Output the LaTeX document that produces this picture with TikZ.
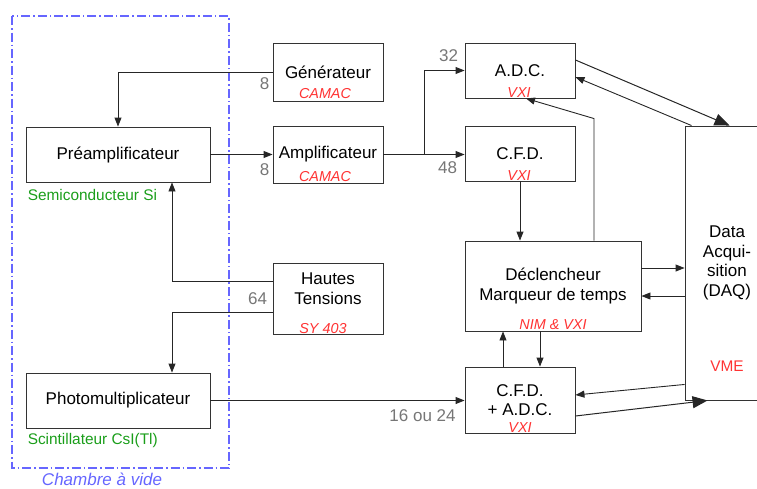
\documentclass[tikz,border=0pt]{standalone}
\usepackage{fontspec}
\setmainfont{Liberation Sans}
\usetikzlibrary{arrows.meta}

\definecolor{chambreblue}{HTML}{6666FF}
\definecolor{busred}{HTML}{FF3333}
\definecolor{detgreen}{HTML}{1A9E1A}
\definecolor{nbgray}{HTML}{767676}

\begin{document}
\begin{tikzpicture}[x=1pt, y=-1pt,
  box/.style={draw=black!80, line width=0.9pt, inner sep=0pt, align=center, font=\fontsize{17}{19.7}\selectfont},
  bus/.style={inner sep=0pt, text=busred, font=\fontsize{14.4}{16}\selectfont\itshape},
  nb/.style={inner sep=0pt, text=nbgray, font=\fontsize{17}{20}\selectfont},
  det/.style={inner sep=0pt, anchor=west, text=detgreen, font=\fontsize{15.4}{18}\selectfont},
  arr/.style={-{Triangle[length=9pt,width=7pt]}, line width=0.9pt, draw=black!85},
  bigarr/.style={-{Triangle[length=15pt,width=12pt]}, line width=1pt, draw=black!85}]

\useasboundingbox (0,0) rectangle (757,488);

% Chambre a vide
\draw[chambreblue, line width=1.6pt, dash pattern=on 9pt off 3pt on 1.5pt off 3pt] (12,16) rectangle (229,468);
\node[text=chambreblue, inner sep=0pt, font=\fontsize{17}{20}\selectfont\itshape] (chambre) at (102,479.5) {Chambre à vide};

% Detecteurs
\node[box, minimum width=184, minimum height=55] (pre) at (118,154.5) {Préamplificateur};
\node[det] (pre-det) at ([shift={(2,13)}]pre.south west) {Semiconducteur Si};
\node[box, minimum width=184, minimum height=55] (photo) at (118,400.5) {Photomultiplicateur};
\node[det] (photo-det) at ([shift={(2,12)}]photo.south west) {Scintillateur CsI(Tl)};

% CAMAC / alimentation
\node[box, minimum width=110, minimum height=58] (gen) at (328,72) {Générateur};
\node[bus] (gen-bus) at ([shift={(-3,-8)}]gen.south) {CAMAC};
\node[box, minimum width=110, minimum height=57] (amp) at (328,154.5) {Amplificateur};
\node[bus] (amp-bus) at ([shift={(-3,-7)}]amp.south) {CAMAC};
\node[box, minimum width=110, minimum height=71] (ht) at (328,298.5) {};
\node[box, draw=none] (ht-txt) at ([shift={(0,-9.5)}]ht.center) {Hautes\\Tensions};
\node[bus] (ht-bus) at ([shift={(-5,-6)}]ht.south) {SY 403};

% VXI / NIM
\node[box, minimum width=110, minimum height=55] (adc) at (520,70.5) {A.D.C.};
\node[bus] (adc-bus) at ([shift={(-1,-6)}]adc.south) {VXI};
\node[box, minimum width=110, minimum height=55] (cfd) at (520,153.5) {C.F.D.};
\node[bus] (cfd-bus) at ([shift={(-1,-6)}]cfd.south) {VXI};
\node[box, minimum width=176, minimum height=90] (trig) at (553,286) {Déclencheur\\Marqueur de temps};
\node[bus] (trig-bus) at ([shift={(0,-7)}]trig.south) {NIM \& VXI};
\node[box, minimum width=110, minimum height=66] (cfdadc) at (520,400) {C.F.D.\\+ A.D.C.};
\node[bus] (cfdadc-bus) at ([shift={(0,-6)}]cfdadc.south) {VXI};

% DAQ (coupe a droite)
\node[box, minimum width=84, minimum height=274] (daq) at (727,263) {Data\\Acqui-\\sition\\(DAQ)};
\node[inner sep=0pt, text=busred, font=\fontsize{15.4}{18}\selectfont] (daq-bus) at (727,366) {VME};

% Liaisons
\draw[arr] (gen.west) -| (pre.north);
\node[nb] (n-gen) at ([shift={(-8,12)}]gen.west) {8};
\draw[arr] (pre.east) -- (pre.east -| amp.west);
\node[nb] (n-amp) at ([shift={(-8,15)}]amp.west) {8};
\draw[arr] (amp.east) -- (amp.east -| cfd.west);
\node[nb] (n-cfd) at ([shift={(-17,14)}]cfd.west) {48};
\draw[arr] ([shift={(41,0)}]amp.east) |- (adc.west);
\node[nb] (n-adc) at ([shift={(-16,-15)}]adc.west) {32};

\draw[arr] ([shift={(0,-17.5)}]ht.west) -| ([shift={(54,0)}]pre.south);
\draw[arr] ([shift={(0,13.5)}]ht.west) -| ([shift={(54,0)}]photo.north);
\node[nb] (n-ht) at ([shift={(-15,0)}]ht.west) {64};

\draw[arr] (photo.east) -- (photo.east -| cfdadc.west);
\node[nb] (n-cfdadc) at ([shift={(-42,16)}]cfdadc.west) {16 ou 24};

\draw[arr] (cfd.south) -- (cfd.south |- trig.north);
\draw[arr] ([shift={(41,0)}]trig.north) -- ++(0,-122) -- ([shift={(6,0)}]adc.south);

\draw[bigarr] ([shift={(0,-10.5)}]adc.east) -- ([shift={(45,0)}]daq.north west);
\draw[arr] ([shift={(7,0)}]daq.north west) -- ([shift={(0,6.5)}]adc.east);

\draw[arr] ([shift={(0,-18)}]trig.east) -- ([shift={(0,-18)}]trig.east -| daq.west);
\draw[arr] ([shift={(0,10)}]trig.east -| daq.west) -- ([shift={(0,10)}]trig.east);

\draw[arr] ([shift={(-17,0)}]cfdadc.north) -- ([shift={(-17,0)}]cfdadc.north |- trig.south);
\draw[arr] ([shift={(-13,0)}]trig.south) -- ([shift={(-13,0)}]trig.south |- cfdadc.north);

\draw[arr] ([shift={(0,-16)}]daq.south west) -- ([shift={(0,-5)}]cfdadc.east);
\draw[bigarr] ([shift={(0,16)}]cfdadc.east) -- ([shift={(23,0)}]daq.south west);

\end{tikzpicture}
\end{document}
